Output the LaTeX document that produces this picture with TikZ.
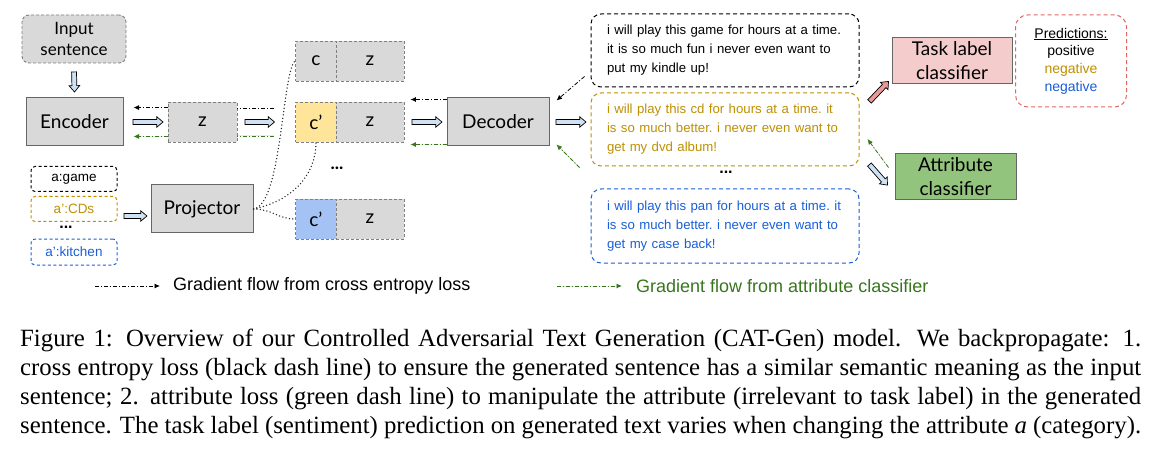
\documentclass[tikz,border=0pt]{standalone}
\usepackage{fontspec}
\setmainfont{Liberation Serif}
\newfontfamily\arial{Liberation Sans}
\newfontfamily\gill{Lato}
\usetikzlibrary{arrows.meta,shapes.arrows,calc}
\definecolor{boxgray}{HTML}{D9D9D9}
\definecolor{bordergray}{HTML}{666666}
\definecolor{dashgray}{HTML}{7F7F7F}
\definecolor{arrblue}{HTML}{CFE2F3}
\definecolor{yelfill}{HTML}{FFE599}
\definecolor{yeltxt}{HTML}{BF9000}
\definecolor{blufill}{HTML}{A4C2F4}
\definecolor{blutxt}{HTML}{1A5FD6}
\definecolor{pinkfill}{HTML}{F4CCCC}
\definecolor{pinkarr}{HTML}{EA9999}
\definecolor{redd}{HTML}{E06666}
\definecolor{grnfill}{HTML}{93C47D}
\definecolor{grn}{HTML}{38761D}
\newcommand\fatarr[4]{\path let \p1=#1, \p2=#2, \n1={veclen(\x2-\x1,\y2-\y1)} in (\p1) -- (\p2) node[midway, sloped, allow upside down, fatarrow=#3, minimum height=\n1] (#4) {};}
\newcommand\sline[1]{\mbox{#1}}
\begin{document}
\begin{tikzpicture}[x=1pt,y=-1pt,
  lbl/.style={font=\gill\fontsize{19}{24}\selectfont},
  solidbox/.style={lbl, draw=bordergray, line width=1pt, fill=boxgray, inner sep=0pt, align=center},
  dashbox/.style={lbl, draw=dashgray, dash pattern=on 3pt off 2pt, line width=0.9pt, fill=boxgray, inner sep=0pt, minimum height=40pt},
  sentbox/.style={rounded corners=10pt, dash pattern=on 4pt off 3pt, line width=1pt, text width=236pt, align=left, inner xsep=16pt, inner ysep=0pt, minimum height=73pt, font=\arial\fontsize{13.2}{19}\selectfont\frenchspacing},
  attrbox/.style={rounded corners=4pt, dash pattern=on 3pt off 2.5pt, line width=1pt, minimum width=86pt, minimum height=25pt, inner sep=0pt, font=\arial\fontsize{13.5}{16}\selectfont},
  fatarrow/.style={single arrow, draw=black, fill=#1, line width=0.7pt, inner xsep=0pt, inner ysep=2.1pt, single arrow head extend=2.8pt, single arrow tip angle=80, single arrow head indent=0pt},
  flowarr/.style={line width=0.8pt, dash pattern=on 4pt off 2pt on 1pt off 2pt, -{Latex[length=5.5pt,width=5pt]}},
  ce/.style={flowarr, draw=black},
  gr/.style={flowarr, draw=grn, fill=grn},
  dots/.style={line width=1.5pt, dash pattern=on 0pt off 3.4pt, line cap=round, draw=black!85}
]
\useasboundingbox[fill=white] (0,0) rectangle (1151,457);

% left column
\node[lbl, draw=dashgray, dash pattern=on 3pt off 2pt, line width=0.9pt, fill=boxgray, rounded corners=7pt, minimum width=104pt, minimum height=48pt, inner sep=0pt, align=center, font=\gill\fontsize{17}{21}\selectfont] (in) at (74,39) {Input\\sentence};
\node[solidbox, minimum width=97pt, minimum height=48pt] (enc) at (74.5,122) {Encoder};
\node[dashbox, minimum width=69pt] (z) at (202.5,122) {z};

\node[attrbox, draw=black] (ag) at (74,179) {a:game};
\node[attrbox, draw=yeltxt, text=yeltxt] (acd) at (74,209) {a’:CDs};
\node[font=\arial\fontsize{16}{16}\selectfont\bfseries] (ldots) at (66,227) {...};
\node[attrbox, draw=blutxt, text=blutxt, minimum height=26pt] (ak) at (74,252) {a’:kitchen};
\node[solidbox, minimum width=102pt, minimum height=48pt] (proj) at (202,209) {Projector};

% c / z stacks
\node[dashbox, minimum width=41pt] (ct) at (316,61) {c};
\node[dashbox, minimum width=68pt] (zt) at (370,61) {z};
\node[dashbox, minimum width=41pt, fill=yelfill] (cm) at (316,122) {c’};
\node[dashbox, minimum width=68pt] (zm) at (370,122) {z};
\node[font=\gill\fontsize{18}{18}\selectfont\bfseries] (mdots) at (337,168) {...};
\node[dashbox, minimum width=41pt, fill=blufill] (cb) at (316,219) {c’};
\node[dashbox, minimum width=68pt] (zb) at (370,219) {z};

\node[solidbox, minimum width=102pt, minimum height=48pt] (dec) at (498,122) {Decoder};

% sentences
\node[sentbox, draw=black] (s1) at (725,50.5) {\sline{i will play this game for hours at a time.}\\\sline{it is so much fun i never even want to}\\\sline{put my kindle up!}};
\node[sentbox, draw=yeltxt, text=yeltxt] (s2) at (725,129.5) {\sline{i will play this cd for hours at a time. it}\\\sline{is so much better. i never even want to}\\\sline{get my dvd album!}};
\node[font=\arial\fontsize{16}{16}\selectfont\bfseries] (sdots) at (726,172) {...};
\node[sentbox, draw=blutxt, text=blutxt, minimum height=74pt] (s3) at (725,226) {\sline{i will play this pan for hours at a time. it}\\\sline{is so much better. i never even want to}\\\sline{get my case back!}};

% classifiers
\node[solidbox, fill=pinkfill, minimum width=120pt, minimum height=46pt] (task) at (952,61) {Task label\\classifier};
\node[solidbox, fill=grnfill, minimum width=121pt, minimum height=46pt] (attr) at (955.5,177) {Attribute\\classifier};
\node[draw=redd, dash pattern=on 4pt off 3pt, line width=1pt, rounded corners=12pt, minimum width=111pt, minimum height=92pt, inner sep=0pt, align=center, font=\arial\fontsize{14}{17.7}\selectfont] (pred) at (1071,61) {\underline{Predictions:}\\positive\\\textcolor{yeltxt}{negative}\\\textcolor{blutxt}{negative}};

% fat arrows
\fatarr{([yshift=-7pt]in.south)}{([yshift=7pt]enc.north)}{arrblue}{fa1}
\fatarr{([xshift=8pt]enc.east)}{([xshift=-6pt]z.west)}{arrblue}{fa2}
\fatarr{([xshift=6pt]z.east)}{([xshift=-22pt]cm.west)}{arrblue}{fa3}
\fatarr{([xshift=5pt,yshift=-7pt]acd.east)}{([xshift=-5pt,yshift=-7pt]proj.west)}{arrblue}{fa4}
\fatarr{([xshift=6pt]zm.east)}{([xshift=-6pt]dec.west)}{arrblue}{fa5}
\fatarr{([xshift=5pt]dec.east)}{([xshift=-6pt]dec.east -| s2.west)}{arrblue}{fa6}
\fatarr{([shift={(9pt,-10pt)}]s2.north east)}{([shift={(-4pt,2pt)}]task.south west)}{pinkarr}{fa7}
\fatarr{([shift={(9pt,3pt)}]s2.south east)}{([shift={(-8pt,-7pt)}]attr.west)}{arrblue}{fa8}

% dotted links
\draw[dots] (proj.east) .. controls (282,205) and (282,72) .. (ct.west);
\draw[dots] (proj.east) .. controls (296,200) and (316,172) .. (cm.south);
\draw[dots] (proj.east) .. controls (272,209) and (278,219) .. (cb.west);

% gradient flows (cross entropy)
\coordinate (ceA) at (274,108);
\coordinate (grA) at (274,136);
\draw[ce] ([yshift=-6pt]z.north west) -- ([yshift=-6pt,xshift=10pt]enc.east |- z.north west);
\draw[ce, -] (ceA) -- (ceA -| z.east);
\draw[ce] ([yshift=-2pt]dec.north west) -- ([yshift=-2pt,xshift=6pt]zm.north east |- dec.north west);
\draw[ce] ([shift={(-6pt,11pt)}]s1.south west) -- ([shift={(7pt,-3pt)}]dec.north east);
% gradient flows (attribute)
\draw[gr] ([yshift=6pt]z.south west) -- ([yshift=6pt,xshift=10pt]enc.east |- z.south west);
\draw[gr, -] (grA) -- (grA -| z.east);
\draw[gr] ([yshift=2pt]dec.south west) -- ([yshift=2pt,xshift=6pt]zm.south east |- dec.south west);
\draw[gr] ([shift={(-11pt,-1pt)}]s2.south west) -- ([shift={(7pt,2pt)}]dec.south east);
\draw[gr] ([shift={(-6pt,-14pt)}]attr.north west) -- ([shift={(8pt,-9.5pt)}]s2.east);

% legend
\coordinate (lg1s) at (95,286);
\coordinate (lg1e) at (160,286);
\coordinate (lg2s) at (557,286);
\coordinate (lg2e) at (622,286);
\draw[ce] (lg1s) -- (lg1e);
\node[anchor=west, inner sep=0pt, font=\arial\fontsize{18}{20}\selectfont] (lgt1) at (173,286) {Gradient flow from cross entropy loss};
\draw[gr] (lg2s) -- (lg2e);
\node[anchor=west, inner sep=0pt, text=grn, font=\arial\fontsize{18}{20}\selectfont] (lgt2) at (636,286) {Gradient flow from attribute classifier};

% caption
\node[anchor=north west, inner sep=0pt, text width=1121pt, align=justify, font=\fontsize{24.8}{29}\selectfont] (cap) at (20,328.6) {Figure 1: Overview of our Controlled Adversarial Text Generation (CAT-Gen) model.  We backpropagate: 1.\linebreak cross entropy loss (black dash line) to ensure the generated sentence has a similar semantic meaning as the input\linebreak sentence; 2. attribute loss (green dash line) to manipulate the attribute (irrelevant to task label) in the generated\linebreak sentence. The task label (sentiment) prediction on generated text varies when changing the attribute \textit{a} (category).};
\end{tikzpicture}
\end{document}
